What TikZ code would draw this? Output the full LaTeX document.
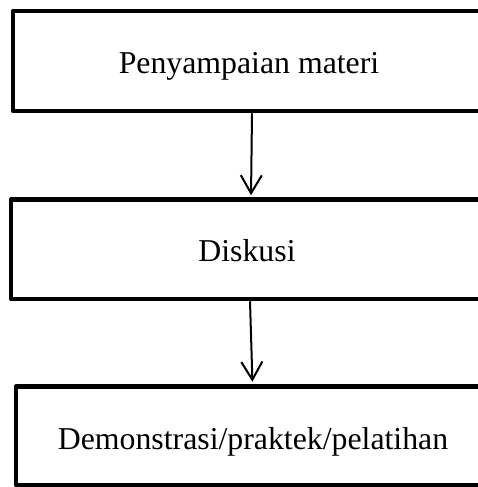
\documentclass[tikz,border=0pt]{standalone}
\usepackage{fontspec}
\setmainfont{Liberation Serif}
\usetikzlibrary{arrows.meta,calc}
\tikzset{
  boxnode/.style={draw=black, line width=4.5pt, rectangle, inner sep=0pt, line join=round},
  lbl/.style={anchor=base, inner sep=0pt, font=\fontsize{31.8}{38}\selectfont},
  flow/.style={line width=2pt, -{Straight Barb[length=18pt,width=21pt,line width=2pt]}}
}
\begin{document}
\begin{tikzpicture}[x=1pt,y=-1pt]
\useasboundingbox (0,0) rectangle (478,487);
\clip (0,0) rectangle (478,487);
\node[boxnode, minimum width=470pt, minimum height=99.8pt] (b1) at (248,61.1) {};
\node[boxnode, minimum width=472pt, minimum height=99.5pt] (b2) at (247,249.25) {};
\node[boxnode, minimum width=467pt, minimum height=98.5pt] (b3) at (249.5,435.75) {};
\node[lbl] (t1) at (249,74) {Penyampaian materi};
\node[lbl] (t2) at (247,261) {Diskusi};
\node[lbl] (t3) at (253,449) {Demonstrasi/praktek/pelatihan};
\draw[flow, shorten >=2pt] ($(b1.south)+(4,0)$) -- ($(b2.north)+(4,0)$);
\draw[flow, shorten >=2.5pt] ($(b2.south)+(3,0)$) -- ($(b3.north)+(3,0)$);
\end{tikzpicture}
\end{document}
